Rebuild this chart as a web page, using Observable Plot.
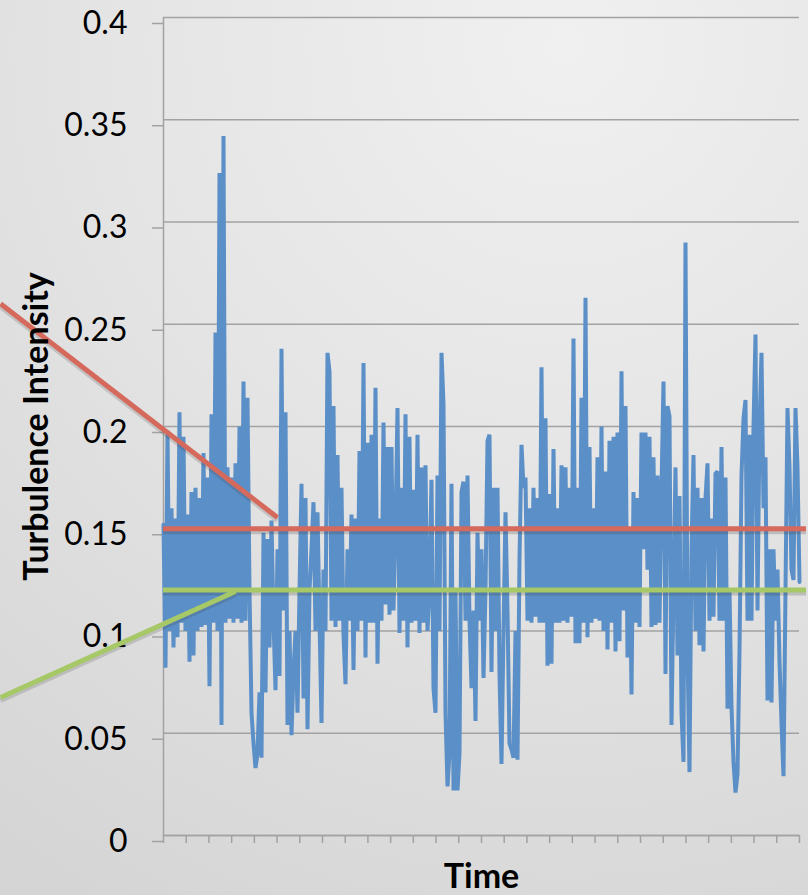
<!DOCTYPE html>
<html><head><meta charset="utf-8">
<script src="https://cdn.jsdelivr.net/npm/d3@7"></script>
<script src="https://cdn.jsdelivr.net/npm/@observablehq/plot@0.6"></script>
<style>
html,body{margin:0;padding:0;}
body{width:808px;height:895px;overflow:hidden;
  background:radial-gradient(ellipse 120% 110% at 70% 5%, #f0f0f0 0%, #e5e5e5 45%, #d5d5d5 100%);}
#chart svg{display:block;}
</style></head><body><div id="chart"></div>
<script>
// Turbulence intensity samples (one every ~2 px of time axis)
const turbulence = [
0.152,0.082,0.198,0.10,0.16,0.092,0.155,0.097,0.207,0.104,
0.195,0.10,0.157,0.085,0.168,0.088,0.17,0.10,0.165,0.102,
0.187,0.103,0.175,0.073,0.206,0.104,0.246,0.10,0.324,0.054,
0.342,0.104,0.18,0.106,0.175,0.104,0.182,0.106,0.2,0.104,
0.222,0.105,0.214,0.12,0.06,0.045,0.033,
0.04,0.07,0.038,0.148,0.07,0.145,0.092,0.154,0.105,0.071,
0.14,0.078,0.238,0.11,0.207,0.054,0.10,0.049,0.08,0.10,
0.06,0.12,0.172,0.067,0.165,0.052,0.12,0.14,0.163,0.10,
0.158,0.105,0.055,0.13,0.10,0.236,0.227,0.105,0.21,0.102,
0.186,0.105,0.17,0.098,0.074,0.14,
0.105,0.157,0.081,0.155,0.10,0.188,0.105,0.231,0.087,0.192,
0.104,0.196,0.104,0.219,0.084,0.155,0.105,0.202,0.113,0.19,
0.108,0.19,0.11,0.15,0.209,0.099,0.17,0.105,0.206,0.092,
0.195,0.104,0.169,0.105,0.196,0.099,0.18,0.104,0.181,0.10,
0.12,0.174,0.072,0.06,0.176,
0.10,0.236,0.211,0.06,0.024,0.04,0.172,0.022,0.12,0.022,
0.04,0.168,0.173,0.105,0.176,0.105,0.072,0.11,0.056,0.148,
0.105,0.14,0.077,0.12,0.193,0.196,0.08,0.17,0.10,0.17,
0.079,0.035,0.10,0.158,0.11,0.045,0.042,0.038,0.10,0.037,
0.135,0.191,0.17,0.175,0.105,0.16,0.104,
0.17,0.107,0.165,0.104,0.229,0.104,0.204,0.083,0.167,0.084,
0.189,0.104,0.16,0.104,0.181,0.105,0.18,0.104,0.17,0.107,
0.243,0.094,0.17,0.094,0.214,0.104,0.263,0.097,0.19,0.104,
0.16,0.106,0.185,0.105,0.20,0.10,0.178,0.091,0.193,0.104,
0.195,0.09,0.197,0.095,0.227,0.11,
0.21,0.087,0.15,0.069,0.168,0.104,0.165,0.102,0.197,0.14,
0.197,0.13,0.195,0.102,0.185,0.103,0.176,
0.104,0.17,0.222,0.079,0.21,0.205,0.054,0.12,0.18,0.088,
0.166,0.06,0.036,0.29,0.09,0.031,0.14,0.186,0.10,0.17,
0.093,0.165,0.09,0.165,0.182,0.105,0.155,0.107,0.177,
0.178,0.105,0.19,0.105,0.175,0.062,0.12,0.063,0.036,0.021,
0.03,0.09,0.176,0.204,0.213,0.105,0.196,0.105,0.20,0.245,
0.11,0.20,0.236,0.16,0.185,0.066,0.14,0.065,0.14,0.105,
0.13,0.085,0.055,0.029,0.12,0.209,0.18,0.13,0.125,0.209,
0.18,0.124
];
const yTicks = [0, 0.05, 0.1, 0.15, 0.2, 0.25, 0.3, 0.35, 0.4];
const upperLevel = [0.15];
const lowerLevel = [0.12];
// annotation pointers, in data units (time index, intensity)
const redPointer = [{x1: -81.5, y1: 0.260, x2: 57, y2: 0.1555}];
const greenPointer = [{x1: -81.5, y1: 0.0675, x2: 36, y2: 0.1193}];
const timeTickCount = 29;

const N = turbulence.length;
const series = turbulence.map((v, i) => ({t: i, v}));
const xTicks = d3.range(timeTickCount).map(k => k * (N - 1) / (timeTickCount - 1));

const GRID = "#a2a2a2";
const BLUE = "#5b8fc7";
const RED = "#d4695c";
const GREEN = "#a6c866";
const FONT = "Lato, 'Open Sans', sans-serif";

const chart = Plot.plot({
  width: 808, height: 895,
  marginTop: 17, marginBottom: 60, marginLeft: 163, marginRight: 9,
  style: {background: "transparent", fontFamily: FONT, overflow: "visible", color: "#000"},
  x: {domain: [0, N - 1]},
  y: {domain: [0, 0.4]},
  marks: [
    Plot.gridY(yTicks, {stroke: GRID, strokeOpacity: 1, strokeWidth: 1.5}),
    Plot.axisY(yTicks, {tickSize: 11, tickPadding: 25, fontSize: 32, stroke: GRID, strokeWidth: 1.5,
      fill: "#000", tickFormat: d => String(d), label: null, dy: 6}),
    Plot.axisX(xTicks, {tickSize: 8, stroke: GRID, strokeWidth: 1.5, tickFormat: () => "", label: null}),
    Plot.ruleX([0], {stroke: GRID, strokeWidth: 1.5}),
    Plot.ruleY([0], {stroke: GRID, strokeWidth: 1.5}),
    Plot.line(series, {x: "t", y: "v", stroke: BLUE, strokeWidth: 4, strokeLinejoin: "miter", strokeMiterlimit: 2}),
    // shadows of annotation lines
    Plot.ruleY(upperLevel, {x1: 0, x2: N - 1, insetRight: -7, stroke: "#3a3a3a", strokeOpacity: 0.22, strokeWidth: 5, dy: 3}),
    Plot.ruleY(lowerLevel, {x1: 0, x2: N - 1, insetRight: -7, stroke: "#3a3a3a", strokeOpacity: 0.22, strokeWidth: 5, dy: 3}),
    Plot.link(redPointer, {x1: "x1", y1: "y1", x2: "x2", y2: "y2", stroke: "#3a3a3a", strokeOpacity: 0.18, strokeWidth: 5, dy: 3}),
    Plot.link(greenPointer, {x1: "x1", y1: "y1", x2: "x2", y2: "y2", stroke: "#3a3a3a", strokeOpacity: 0.18, strokeWidth: 5, dy: 3}),
    // annotation lines
    Plot.ruleY(upperLevel, {x1: 0, x2: N - 1, insetRight: -7, stroke: RED, strokeWidth: 5}),
    Plot.ruleY(lowerLevel, {x1: 0, x2: N - 1, insetRight: -7, stroke: GREEN, strokeWidth: 5}),
    Plot.link(redPointer, {x1: "x1", y1: "y1", x2: "x2", y2: "y2", stroke: RED, strokeWidth: 5}),
    Plot.link(greenPointer, {x1: "x1", y1: "y1", x2: "x2", y2: "y2", stroke: GREEN, strokeWidth: 5}),
    // axis titles
    Plot.text(["Time"], {frameAnchor: "bottom", dy: 42, lineAnchor: "middle", fontSize: 34, fontWeight: "bold", fill: "#000"}),
    Plot.text(["Turbulence Intensity"], {frameAnchor: "left", dx: -126, rotate: -90, textAnchor: "middle", lineAnchor: "middle", fontSize: 34, fontWeight: "bold", fill: "#000"})
  ]
});
document.getElementById("chart").appendChild(chart);
</script>
</body></html>
